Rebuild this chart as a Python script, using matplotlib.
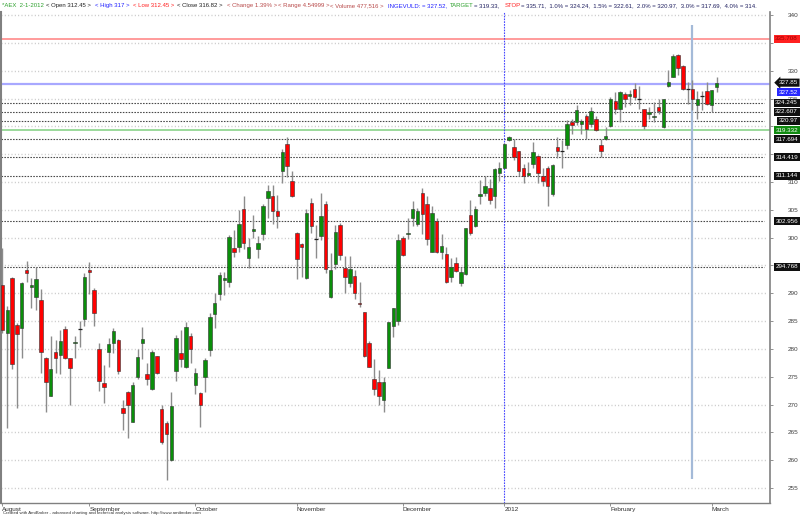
import numpy as np
import matplotlib
matplotlib.use("Agg")
import matplotlib.pyplot as plt
import matplotlib.transforms as mtransforms

plt.rcParams['font.family'] = ['Liberation Sans', 'DejaVu Sans']

# daily AEX bars, Aug 8 2011 .. Mar 2 2012
opens = [291.5, 282.8, 292.8, 284.3, 283.8, 294.2, 291.1, 289.4, 288.8, 278.3,
         271.6, 279.4, 278.9, 283.6, 278.3, 281.0, 283.6, 285.3, 294.2, 290.5,
         279.9, 273.8, 279.5, 281.0, 281.6, 269.3, 272.3, 266.9, 275.0, 281.1,
         275.5, 272.7, 278.7, 269.2, 266.6, 260.0, 276.0, 279.3, 276.8, 282.4,
         273.5, 272.0, 275.0, 279.8, 286.2, 289.9, 292.3, 292.1, 298.2, 298.4,
         305.1, 296.3, 301.2, 297.9, 300.6, 307.2, 307.4, 304.8, 312.0, 316.8,
         310.2, 300.9, 298.8, 292.8, 306.3, 299.8, 300.2, 306.0, 289.4, 295.2,
         302.3, 294.6, 291.8, 293.1, 288.2, 286.6, 281.0, 274.5, 274.1, 270.9,
         276.6, 284.1, 285.1, 300.0, 300.6, 303.5, 302.4, 308.1, 306.0, 297.5,
         302.9, 297.5, 297.1, 293.0, 295.5, 291.8, 293.4, 304.1, 302.1, 307.4,
         308.0, 309.0, 307.5, 311.6, 312.45, 317.6, 316.2, 315.5, 312.5, 311.3,
         313.2, 314.7, 311.1, 312.6, 307.8, 316.2, 315.6, 316.6, 320.8, 320.7,
         320.5, 321.9, 320.4, 321.3, 316.6, 317.7, 320.1, 324.6, 323.1, 325.9,
         325.5, 326.8, 325.0, 323.1, 322.2, 321.6, 323.5, 319.8, 327.2, 328.9,
         332.8, 330.9, 326.7, 326.8, 323.8, 325.5, 326.4, 323.8, 327.0]
highs = [298.1, 287.7, 292.9, 284.6, 292.0, 295.8, 292.7, 294.7, 290.8, 278.6,
         282.3, 281.6, 283.4, 284.2, 278.4, 282.3, 285.0, 293.6, 295.7, 290.9,
         281.0, 277.1, 281.9, 283.7, 281.8, 270.8, 272.4, 274.1, 279.9, 284.0,
         277.5, 279.8, 278.8, 269.9, 267.1, 272.2, 282.5, 283.4, 284.9, 282.8,
         276.6, 272.3, 278.3, 286.4, 290.0, 293.9, 293.9, 300.5, 301.4, 305.0,
         307.4, 299.9, 304.1, 300.2, 306.0, 309.5, 309.5, 307.7, 316.0, 318.0,
         311.9, 301.0, 299.0, 305.1, 307.1, 302.3, 308.1, 306.6, 297.3, 302.3,
         302.6, 296.7, 296.7, 294.2, 292.1, 286.7, 281.5, 278.1, 276.2, 275.0,
         284.9, 287.4, 300.6, 300.2, 303.6, 306.6, 305.4, 309.0, 307.4, 305.6,
         303.6, 300.6, 298.3, 296.3, 296.6, 294.8, 301.7, 306.8, 305.7, 310.4,
         311.0, 310.6, 312.6, 313.5, 317.0, 318.2, 317.7, 315.6, 313.2, 313.6,
         317.1, 314.8, 312.5, 312.9, 313.2, 318.1, 317.5, 321.1, 321.3, 323.8,
         321.4, 322.3, 323.5, 321.8, 317.7, 319.8, 325.3, 326.2, 326.4, 326.2,
         326.6, 327.8, 327.2, 323.2, 323.4, 324.4, 324.9, 325.0, 330.1, 333.0,
         333.0, 331.0, 328.0, 328.4, 326.4, 326.4, 328.0, 326.6, 328.8]
lows = [282.8, 265.7, 276.3, 269.3, 278.3, 292.0, 287.3, 286.9, 275.7, 268.7,
        271.5, 275.7, 275.5, 278.2, 269.9, 278.3, 280.4, 284.1, 289.9, 284.1,
        272.5, 270.3, 276.8, 279.2, 275.5, 265.4, 263.9, 266.8, 274.5, 278.1,
        273.5, 272.6, 275.5, 262.9, 256.4, 259.9, 274.2, 276.8, 276.5, 277.4,
        271.9, 266.0, 272.3, 278.7, 283.7, 288.7, 289.7, 291.2, 296.5, 297.5,
        297.9, 294.5, 299.9, 296.4, 299.6, 303.6, 302.4, 301.7, 309.9, 310.9,
        307.3, 292.6, 293.0, 292.6, 300.8, 296.4, 299.6, 293.6, 289.1, 294.3,
        296.0, 290.0, 291.1, 288.9, 287.5, 278.6, 276.8, 271.7, 269.9, 268.7,
        276.6, 282.1, 284.3, 296.7, 299.7, 302.0, 302.0, 300.6, 298.7, 297.4,
        297.3, 296.1, 291.9, 292.1, 293.9, 291.3, 293.2, 300.5, 301.9, 306.0,
        307.5, 306.0, 305.4, 310.1, 312.45, 317.3, 313.9, 311.0, 309.8, 311.1,
        312.5, 309.9, 309.3, 305.6, 307.4, 314.3, 312.6, 316.0, 318.7, 320.2,
        318.6, 317.7, 319.9, 319.2, 314.4, 317.5, 319.9, 322.3, 320.8, 323.5,
        323.8, 324.8, 323.1, 319.6, 321.4, 320.8, 322.2, 319.7, 327.1, 328.9,
        329.2, 326.6, 324.1, 322.9, 321.4, 322.9, 323.9, 322.6, 326.2]
closes = [283.4, 287.0, 277.2, 282.6, 291.9, 293.6, 291.5, 292.6, 279.5, 274.1,
          276.3, 278.3, 281.5, 278.3, 276.5, 281.3, 283.6, 292.9, 293.8, 286.4,
          274.3, 273.2, 280.9, 283.3, 276.1, 268.4, 270.0, 273.5, 278.5, 281.7,
          274.5, 279.4, 275.6, 263.3, 264.7, 269.8, 281.9, 278.2, 283.9, 280.0,
          275.6, 269.9, 278.0, 285.7, 288.2, 293.3, 292.7, 300.1, 297.4, 302.4,
          299.1, 298.4, 301.5, 299.0, 305.6, 308.3, 304.8, 303.8, 315.3, 312.9,
          307.4, 296.1, 298.3, 304.4, 302.0, 299.8, 303.9, 294.3, 294.2, 301.0,
          296.8, 292.9, 294.3, 290.1, 288.0, 278.7, 276.8, 272.7, 271.6, 274.1,
          284.9, 287.4, 299.6, 296.9, 300.9, 305.1, 304.7, 304.2, 299.7, 304.5,
          297.4, 298.5, 292.1, 294.7, 294.0, 293.8, 301.7, 300.8, 305.1, 307.9,
          309.3, 306.8, 312.3, 312.5, 316.82, 318.0, 314.5, 311.9, 311.1, 311.7,
          315.4, 311.6, 310.2, 309.2, 313.0, 315.6, 315.6, 320.4, 320.2, 322.9,
          320.9, 319.5, 322.8, 319.3, 315.6, 318.3, 325.0, 323.1, 326.2, 325.0,
          325.9, 325.3, 325.0, 320.1, 322.5, 321.9, 322.8, 325.0, 327.9, 332.6,
          330.4, 326.7, 326.7, 324.9, 324.9, 325.5, 324.1, 326.5, 327.85]

month_bars = [0, 18, 40, 61, 83, 104, 126, 147]
month_labels = ['August', 'September', 'October', 'November', 'December', '2012', 'February', 'March']

# right axis labels that are not hidden behind the price boxes
ytick_vals = [255, 260, 265, 270, 275, 280, 285, 290, 300, 305, 310, 325, 330, 340]

stop_level = 335.708
entry_level = 327.52
target_level = 319.332
last_close = 327.85
pct_levels = [324.245, 322.607, 320.97, 317.694, 314.419, 311.144, 302.956, 294.768]
pct_texts = ['324.245', '322.607', '320.97', '317.694', '314.419', '311.144', '302.956', '294.768']

selected_bar = 104
marker_bar = 143
marker_range = (256.6, 338.2)

o = np.array(opens)
h = np.array(highs)
l = np.array(lows)
c = np.array(closes)
x = np.arange(len(c))

fig = plt.figure(figsize=(8, 5.17), dpi=100)
fig.set_facecolor('white')
ax = fig.add_axes([1 / 800, 14 / 517, 769 / 800, 491 / 517])
ax.set_xlim(-0.3, 159.07)
ax.set_ylim(252.3, 340.55)

# grid
for v in range(255, 345, 5):
    ax.axhline(v, xmax=0.995, color='#c4c4c4', lw=1.0, ls=(0, (0.7, 1.7)), zorder=0)

# level lines
for v in pct_levels:
    ax.axhline(v, xmax=0.992, color='#484848', lw=0.8, ls=(0, (1.4, 1.2)), zorder=1)
ax.axhline(stop_level, color='#ff8080', lw=1.1, zorder=1)
ax.axhline(entry_level, color='#a8a8ff', lw=1.6, zorder=1)
ax.axhline(target_level, color='#80d080', lw=1.1, zorder=1)

ax.axvline(selected_bar, color='#4848ff', lw=0.8, ls=(0, (1.5, 1.0)), zorder=1)
ax.vlines(marker_bar, marker_range[0], marker_range[1], color='#a4bad8', lw=1.6, zorder=1)

# candles
ax.vlines(x, l, h, color='#8c8c8c', lw=1.0, zorder=3)
doji = np.abs(c - o) < 0.05
body = ~doji
up = c >= o
cols = np.where(up, '#0a8f0a', '#ff0000')
ax.bar(x[body], np.abs(c - o)[body], 0.72, bottom=np.minimum(o, c)[body],
       color=cols[body], edgecolor='#303030', linewidth=0.4, zorder=4)
ax.hlines(c[doji], x[doji] - 0.4, x[doji] + 0.4, color='#202020', lw=0.9, zorder=4)

# axes style
ax.spines['top'].set_visible(False)
ax.spines['left'].set_color('#808080')
ax.spines['left'].set_linewidth(1.5)
ax.spines['right'].set_color('#808080')
ax.spines['right'].set_linewidth(1.2)
ax.spines['bottom'].set_color('#808080')
ax.spines['bottom'].set_linewidth(1.0)

ax.yaxis.tick_right()
ax.set_yticks(range(255, 345, 5))
ax.set_yticklabels([str(v) if v in ytick_vals else '' for v in range(255, 345, 5)])
ax.tick_params(axis='y', labelsize=4.6, colors='#808080', labelcolor='#404040',
               length=2.2, width=0.6, pad=10.5)

ax.set_xticks(month_bars)
ax.set_xticklabels(month_labels, ha='left')
ax.tick_params(axis='x', labelsize=4.6, colors='#808080', labelcolor='#303030',
               length=2.5, width=0.6, pad=0.5)

# price boxes on the right (the entry box is pushed down below the last-close box)
trans = mtransforms.blended_transform_factory(fig.transFigure, ax.transData)
boxes = [(stop_level, '335.708', '#ff2020', '#a00000', 'square'),
         (last_close, '327.85', '#101010', 'white', 'larrow'),
         (entry_level - 1.35, '327.52', '#2828ff', 'white', 'square'),
         (target_level, '319.332', '#108a10', 'white', 'square')]
boxes += [(v, t, '#101010', 'white', 'square') for v, t in zip(pct_levels, pct_texts)]
for v, t, bg, fg, style in boxes:
    ax.text(0.9975, v, t, transform=trans, ha='right', va='center', fontsize=4.5,
            color=fg, zorder=10, clip_on=False,
            bbox=dict(boxstyle=style + ',pad=0.25', fc=bg, ec='none'))

# header
ytop = 1 - 5.5 / 517
header = [(1.7, '*AEX  2-1-2012', '#2ca02c'),
          (46, '< Open 312.45 >', '#202020'),
          (95, '< High 317 >', '#2020ff'),
          (132.7, '< Low 312.45 >', '#ff2020'),
          (177.3, '< Close 316.82 >', '#202020'),
          (226.7, '< Change 1.39% >', '#b84a4a'),
          (278.3, '< Range 4.54999 >', '#b84a4a'),
          (330, '< Volume 477,516 >', '#b84a4a'),
          (388.3, 'INGEVULD: = 327.52,', '#2020ff'),
          (450, 'TARGET', '#2ca02c'),
          (474, '= 319.33,', '#202060'),
          (505, 'STOP', '#ff2020'),
          (521, '= 335.71,  1.0% = 324.24,  1.5% = 322.61,  2.0% = 320.97,  3.0% = 317.69,  4.0% = 314.', '#202060')]
for px, t, col in header:
    fig.text(px / 800, ytop, t, color=col, fontsize=4.3, ha='left', va='center')

fig.text(3 / 800, 1 - 513 / 517, 'Created with AmiBroker - advanced charting and technical analysis software. http://www.amibroker.com',
         fontsize=3.2, color='#303030', ha='left', va='center')

fig.savefig('out.png', dpi=100)
plt.close(fig)
